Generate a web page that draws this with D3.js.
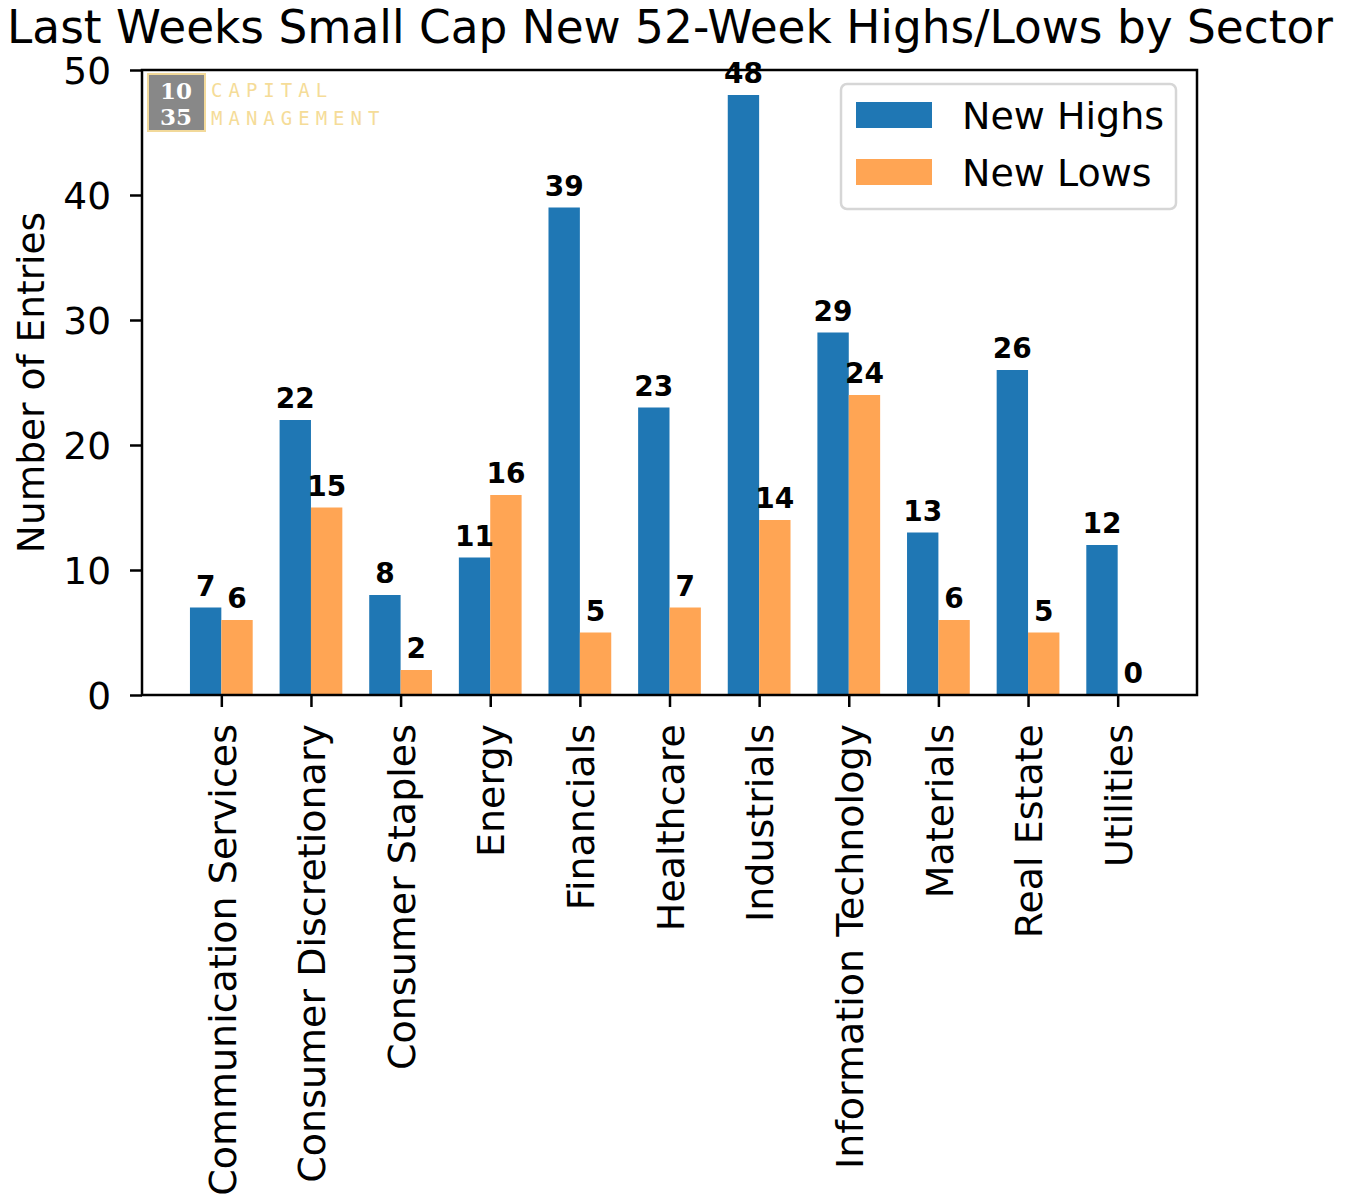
<!DOCTYPE html>
<html>
<head>
<meta charset="utf-8">
<script src="https://cdn.jsdelivr.net/npm/d3@7"></script>
<style>
  body { margin: 0; background: #fff; }
  text { font-family: "DejaVu Sans", sans-serif; }
</style>
</head>
<body>
<div id="chart"></div>
<script>
// data
var sectors = ["Communication Services", "Consumer Discretionary", "Consumer Staples", "Energy",
  "Financials", "Healthcare", "Industrials", "Information Technology", "Materials", "Real Estate", "Utilities"];
var newHighs = [7, 22, 8, 11, 39, 23, 48, 29, 13, 26, 12];
var newLows  = [6, 15, 2, 16, 5, 7, 14, 24, 6, 5, 0];
var yTicks = [0, 10, 20, 30, 40, 50];

var W = 1350, H = 1198;
var axL = 142, axR = 1197, axT = 70, axB = 695;
var barW = 0.35;

var svg = d3.select("#chart").append("svg").attr("width", W).attr("height", H);

// x is linear over the category index, like matplotlib
var x = d3.scaleLinear().domain([-0.885, 10.885]).range([axL, axR]);
var y = d3.scaleLinear().domain([0, 50]).range([axB, axT]);

var g = svg.append("g");

// bars
g.selectAll(".hi").data(newHighs).enter().append("rect")
  .attr("x", function(d, i) { return x(i - barW); })
  .attr("width", x(barW) - x(0))
  .attr("y", function(d) { return y(d); })
  .attr("height", function(d) { return y(0) - y(d); })
  .attr("fill", "#1f77b4");

g.selectAll(".lo").data(newLows).enter().append("rect")
  .attr("x", function(d, i) { return x(i); })
  .attr("width", x(barW) - x(0))
  .attr("y", function(d) { return y(d); })
  .attr("height", function(d) { return y(0) - y(d); })
  .attr("fill", "#ffa554");

// value labels
function labels(vals, off) {
  g.selectAll(null).data(vals).enter().append("text")
    .attr("x", function(d, i) { return x(i + off); })
    .attr("y", function(d) { return y(d) - 12; })
    .attr("text-anchor", "middle")
    .style("font-size", "28px").style("font-weight", "bold")
    .text(function(d) { return d; });
}
labels(newHighs, -barW / 2);
labels(newLows, barW / 2);

// axes
var yAxis = d3.axisLeft(y).tickValues(yTicks).tickSize(12).tickPadding(19);
var ya = svg.append("g").attr("transform", "translate(" + axL + ",0)").call(yAxis);
ya.select(".domain").remove();
ya.selectAll("line").attr("stroke", "#000").attr("stroke-width", 2.5);
ya.selectAll("text").style("font-size", "37.5px").attr("dy", "0.36em");

var xAxis = d3.axisBottom(x).tickValues(d3.range(sectors.length))
  .tickFormat(function(i) { return sectors[i]; }).tickSize(12).tickPadding(8);
var xa = svg.append("g").attr("transform", "translate(0," + axB + ")").call(xAxis);
xa.select(".domain").remove();
xa.selectAll("line").attr("stroke", "#000").attr("stroke-width", 2.5);
xa.selectAll("text")
  .style("font-size", "38px")
  .attr("text-anchor", "end")
  .attr("transform", "rotate(-90)")
  .attr("x", -29).attr("y", 0).attr("dy", "0.36em");

// frame
svg.append("rect").attr("x", axL).attr("y", axT)
  .attr("width", axR - axL).attr("height", axB - axT)
  .attr("fill", "none").attr("stroke", "#000").attr("stroke-width", 2.5);

// title and y label
svg.append("text").attr("x", 670).attr("y", 43)
  .attr("text-anchor", "middle").style("font-size", "45.4px")
  .text("Last Weeks Small Cap New 52-Week Highs/Lows by Sector");

svg.append("text").attr("transform", "translate(44," + ((axT + axB) / 2) + ") rotate(-90)")
  .attr("text-anchor", "middle").style("font-size", "37.5px")
  .text("Number of Entries");

// logo
var logo = svg.append("g");
logo.append("rect").attr("x", 148).attr("y", 74).attr("width", 57).attr("height", 57)
  .attr("fill", "#888").attr("stroke", "#f2d99a").attr("stroke-width", 2);
logo.append("text").attr("x", 176).attr("y", 99).attr("text-anchor", "middle")
  .style("font-family", "'DejaVu Serif', serif").style("font-weight", "bold")
  .style("font-size", "23px").attr("fill", "#fff").text("10");
logo.append("text").attr("x", 176).attr("y", 125).attr("text-anchor", "middle")
  .style("font-family", "'DejaVu Serif', serif").style("font-weight", "bold")
  .style("font-size", "23px").attr("fill", "#fff").text("35");
logo.append("text").attr("x", 211).attr("y", 97)
  .style("font-family", "'DejaVu Sans Mono', monospace").style("font-size", "19px")
  .style("letter-spacing", "6px").attr("fill", "#f5dc98").text("CAPITAL");
logo.append("text").attr("x", 211).attr("y", 125)
  .style("font-family", "'DejaVu Sans Mono', monospace").style("font-size", "19px")
  .style("letter-spacing", "6px").attr("fill", "#f5dc98").text("MANAGEMENT");

// legend
var lg = svg.append("g");
lg.append("rect").attr("x", 841).attr("y", 84).attr("width", 335).attr("height", 125)
  .attr("rx", 6).attr("fill", "#fff").attr("fill-opacity", 0.8)
  .attr("stroke", "#d6d6d6").attr("stroke-width", 2.5);
var items = [["New Highs", "#1f77b4"], ["New Lows", "#ffa554"]];
items.forEach(function(it, k) {
  lg.append("rect").attr("x", 856).attr("y", 102 + k * 57).attr("width", 76).attr("height", 26)
    .attr("fill", it[1]);
  lg.append("text").attr("x", 962).attr("y", 115 + k * 57).attr("dy", "0.36em")
    .style("font-size", "38px").text(it[0]);
});
</script>
</body>
</html>
